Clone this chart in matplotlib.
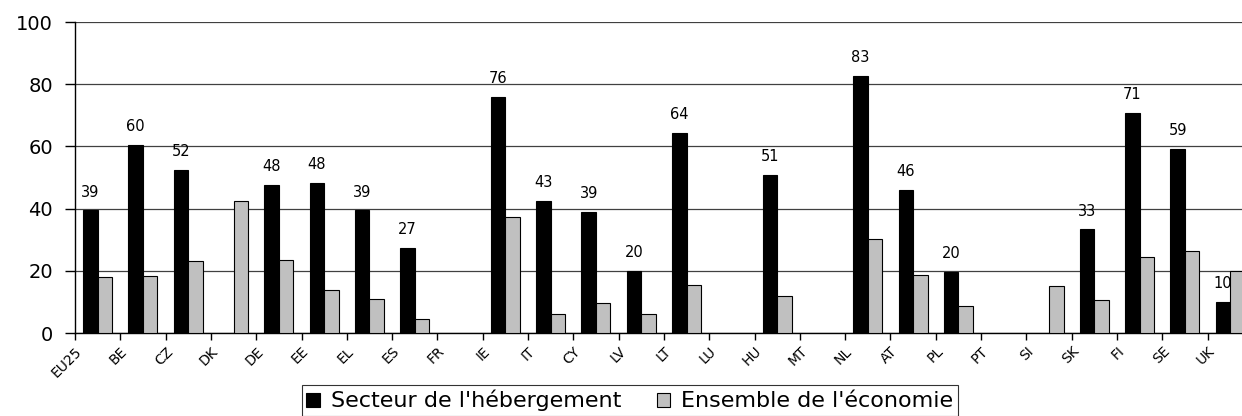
import numpy as np
import matplotlib
matplotlib.use("Agg")
import matplotlib.pyplot as plt

plt.rcParams['font.family'] = ['DejaVu Sans']

countries = ['EU25', 'BE', 'CZ', 'DK', 'DE', 'EE', 'EL', 'ES', 'FR', 'IE', 'IT', 'CY', 'LV',
             'LT', 'LU', 'HU', 'MT', 'NL', 'AT', 'PL', 'PT', 'SI', 'SK', 'FI', 'SE', 'UK']
nan = np.nan
hebergement = [39.4, 60.5, 52.3, nan, 47.5, 48.3, 39.4, 27.3, nan, 75.8, 42.6, 39.0, 20.0,
               64.4, nan, 50.7, nan, 82.7, 45.9, 19.6, nan, nan, 33.3, 70.9, 59.2, 9.9]
economie = [18.0, 18.4, 23.2, 42.5, 23.6, 13.9, 11.0, 4.6, nan, 37.3, 6.1, 9.8, 6.1,
            15.5, nan, 11.8, nan, 30.1, 18.7, 8.6, nan, 15.1, 10.6, 24.4, 26.5, 19.9]

x = np.arange(len(countries))
w = 0.32

fig = plt.figure(figsize=(12.42, 4.16), dpi=100)
ax = fig.add_axes([0.0604, 0.1995, 0.9396, 0.7475])

ax.bar(x - w / 2, hebergement, w, color='black', edgecolor='black', linewidth=0.8,
       label="Secteur de l'hébergement", zorder=3)
ax.bar(x + w / 2, economie, w, color='#c0c0c0', edgecolor='black', linewidth=0.8,
       label="Ensemble de l'économie", zorder=3)

# valeurs au-dessus des barres noires
for xi, v in zip(x, hebergement):
    if not np.isnan(v):
        ax.text(xi - w / 2, v + 3.5, f"{v:.0f}", ha='center', va='bottom', fontsize=10.5, zorder=4)

ax.set_ylim(0, 100)
ax.set_xlim(-0.5, 25.26)
ax.set_yticks([0, 20, 40, 60, 80, 100])
ax.tick_params(axis='y', labelsize=14, length=7, width=1, pad=9)
ax.set_xticks(x - 0.5)
ax.set_xticklabels(countries, rotation=45, ha='right', rotation_mode='anchor', fontsize=10)
ax.tick_params(axis='x', length=5, width=1, pad=3)

ax.yaxis.grid(True, color='#404040', linewidth=0.9, zorder=0)
for s in ['top', 'right']:
    ax.spines[s].set_visible(False)
ax.spines['left'].set_linewidth(1)
ax.spines['bottom'].set_linewidth(1)

leg = fig.legend(loc='lower center', bbox_to_anchor=(0.507, -0.005), ncol=2, fontsize=16,
                 frameon=True, fancybox=False, edgecolor='black', handlelength=0.6,
                 handleheight=0.6, columnspacing=1.6, borderpad=0.2, handletextpad=0.5,
                 borderaxespad=0.1)
leg.get_frame().set_linewidth(0.8)

plt.savefig('out.png', dpi=100)
